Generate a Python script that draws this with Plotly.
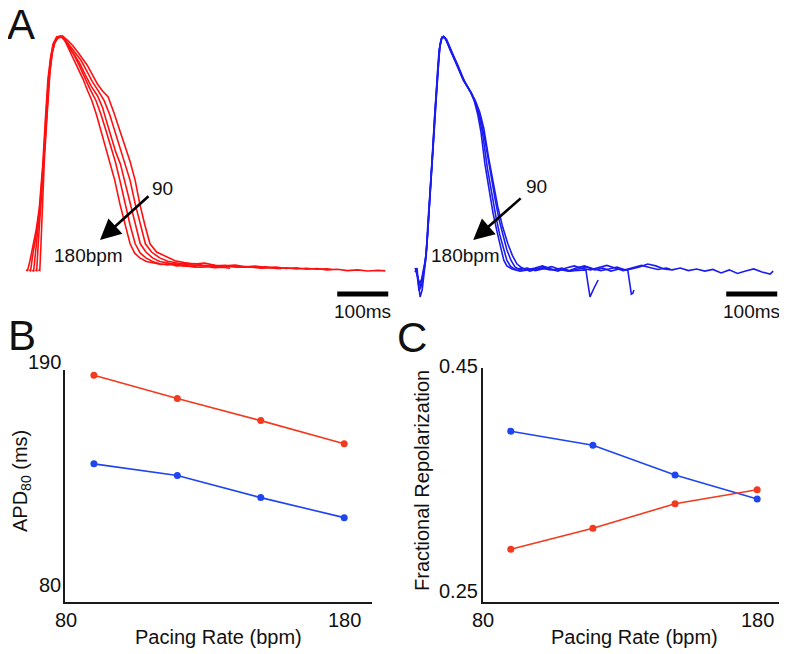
import plotly.graph_objects as go

W, H = 787, 654
FONT = "Liberation Sans, Arial, Helvetica, sans-serif"

# ---------------- Panel A data: optical action potentials (time ms, normalized amplitude %) ----------------
red_180_t = [0, 3, 8, 14, 20, 26, 33, 38, 43, 48, 53, 60, 68, 75, 84, 93, 102, 112, 121, 129, 138, 147, 156, 165, 174, 184, 194, 204, 213, 223, 236, 250, 265, 280, 295, 310, 325, 335]
red_180_v = [0.8, 0.6, 5, 11, 18, 27, 46, 65, 82, 91, 97, 100, 100.5, 99, 95, 91, 87, 82, 77, 73, 67, 60, 54, 47, 39, 29, 20, 12, 8, 6, 4.5, 3.8, 3.2, 3.5, 2.6, 2.8, 2.2, 2.0]
red_150_t = [6, 9, 13, 18, 23, 28, 34, 39, 44, 49, 54, 61, 69, 77, 86, 95, 104, 114, 125, 137, 147, 157, 166, 175, 184, 194, 204, 214, 224, 235, 248, 262, 278, 292, 308, 322, 340, 355, 370, 385, 400]
red_150_v = [0.9, 0.5, 7, 14, 20, 30, 47, 66, 82, 92, 97, 100, 100, 98.5, 95.5, 92, 88, 83, 78, 73, 67, 60, 54, 47, 39, 29, 20, 12, 8, 6, 4.5, 3.5, 3.0, 3.4, 2.6, 2.4, 2.0, 2.2, 1.8, 2.0, 1.6]
red_120_t = [12, 15, 19, 24, 29, 35, 40, 45, 50, 55, 62, 70, 78, 87, 96, 105, 116, 128, 140, 150, 158, 167, 176, 185, 194, 204, 214, 224, 235, 248, 262, 278, 295, 312, 330, 348, 366, 384, 402, 420, 440, 460, 480, 500]
red_120_v = [0.7, 0.4, 9, 19, 31, 48, 67, 83, 92, 97, 99.5, 100, 98, 95, 92, 89, 84, 79, 75, 70, 64, 57, 51, 46, 38, 29, 20, 12, 8.5, 6, 4.5, 3.8, 3.2, 3.6, 2.8, 2.6, 3.0, 2.2, 2.4, 2.0, 2.2, 1.6, 1.8, 1.4]
red_100_t = [18, 21, 24, 29, 35, 41, 46, 51, 56, 63, 72, 80, 89, 98, 108, 118, 130, 142, 153, 164, 174, 184, 194, 204, 214, 224, 234, 246, 262, 278, 294, 312, 330, 350, 370, 390, 410, 430, 450, 470, 490, 510, 530, 550, 570, 590, 600]
red_100_v = [0.8, 0.5, 12, 28, 47, 68, 84, 93, 97.5, 100, 100.5, 98, 95.5, 93, 90, 86, 81, 77, 73, 67, 60, 54, 47, 39, 29, 20, 12, 8.5, 6, 4.6, 3.8, 3.2, 3.6, 2.8, 2.4, 2.9, 2.1, 2.3, 1.9, 2.2, 1.5, 1.8, 1.3, 1.6, 1.2, 1.4, 1.1]
red_90_t = [24, 27, 29, 32, 36, 42, 47, 52, 57, 64, 74, 82, 91, 100, 110, 120, 130, 140, 150, 161, 172, 183, 194, 204, 214, 223, 233, 243, 256, 276, 292, 310, 330, 350, 370, 390, 410, 430, 450, 470, 490, 510, 530, 550, 570, 590, 610, 630, 650, 670, 690, 704]
red_90_v = [0.9, 0.6, 10, 30, 48, 69, 85, 94, 98, 100, 100, 98.5, 96.5, 94, 91, 88, 84, 80, 77, 74.5, 68, 61, 54, 47, 39, 29, 20, 12, 8.5, 6.4, 4.8, 4.0, 3.4, 3.8, 2.9, 2.6, 3.0, 2.2, 2.5, 1.9, 2.1, 1.5, 1.8, 1.2, 1.5, 0.9, 1.2, 0.6, 0.9, 0.4, 0.7, 0.5]

blue_180_t = [0, 4, 6, 10, 14, 18, 22, 25, 29, 35, 39, 45, 49, 53, 59, 69, 80, 94, 108, 116, 123, 129, 137, 145, 153, 161, 167, 174, 180, 190, 206, 225, 245, 265, 284, 304, 323, 335, 339, 343, 351, 359]
blue_180_v = [0, 1.7, -3.4, -10.6, -7.7, 0, 7.2, 20, 32, 52, 68, 88, 96.6, 100, 99.6, 94.5, 89, 82, 77, 73, 67, 60, 46, 35, 25, 17, 11, 5, 2.6, 1.3, 0.4, 0.9, 1.7, 0.9, 1.3, 0.4, 0.9, 0.9, -5, -10.6, -6.8, -3.4]
blue_150_t = [1, 4, 8, 12, 16, 20, 24, 28, 33, 38, 44, 48, 52, 57, 62, 70, 82, 95, 109, 118, 126, 133, 142, 151, 159, 166, 173, 180, 187, 195, 210, 225, 240, 256, 272, 288, 304, 320, 336, 352, 368, 384, 400, 417, 421, 424, 427, 429]
blue_150_v = [1.2, -1, -8, -6, -1, 4, 14, 28, 47, 65, 86, 95, 99.5, 100, 98.5, 94, 88.5, 81.5, 76.5, 72, 66, 58, 44, 32, 23, 16, 10, 5, 2.5, 1.2, 1.7, 0.4, 1.3, 2.1, 0.9, 1.7, 0.4, 1.3, 2.1, 0.9, 1.7, 0.4, 1.3, 0.9, -6, -9.4, -9.0, -7.7]
blue_120_t = [2, 5, 9, 13, 17, 21, 25, 29, 34, 39, 45, 49, 53, 58, 64, 72, 84, 97, 111, 121, 130, 138, 147, 157, 165, 173, 180, 188, 196, 205, 220, 236, 252, 268, 284, 300, 316, 332, 348, 364, 380, 396, 412, 428, 444, 460, 476, 492, 500]
blue_120_v = [0.5, -2, -5, -3, 1, 6, 17, 30, 50, 68, 88, 96, 99.8, 99.8, 97.5, 93.5, 88, 81, 76, 71, 64, 55, 43, 31, 22, 15, 9.5, 5, 2.2, 1.0, 1.7, 0.6, 1.3, 2.3, 1.1, 0.4, 1.7, 2.6, 1.5, 0.6, 1.3, 2.1, 0.9, 1.7, 2.8, 1.9, 1.1, 1.7, 1.3]
blue_90_t = [0, 3, 7, 11, 15, 19, 23, 27, 32, 37, 43, 47, 51, 56, 62, 70, 80, 94, 108, 118, 127, 135, 144, 153, 162, 172, 182, 191, 200, 210, 220, 235, 250, 265, 280, 296, 312, 328, 344, 360, 376, 392, 408, 424, 440, 456, 472, 488, 504, 520, 536, 552, 568, 584, 600, 616, 632, 648, 664, 680, 696, 702]
blue_90_v = [1.7, 0.4, -4, -6.5, -2, 3, 10, 24, 44, 62, 84, 94, 99, 100.3, 99, 95, 90, 82.5, 77, 73, 68, 61, 49, 38, 28, 19, 12, 7, 3.4, 1.7, 0.9, 1.7, 2.6, 1.3, 0.4, 1.7, 2.6, 1.5, 0.9, 1.9, 2.8, 1.7, 0.6, 1.3, 2.1, 3.4, 2.6, 1.3, 0.9, 1.7, 0.6, 1.3, 0.4, 1.1, -0.4, 0.9, -0.6, 0.4, 1.3, 0.0, -0.9, 0.4]

scale_bar_start_ms = 610
scale_bar_len_ms = 100
scale_bar_level = -9.4
scale_bar_label = "100ms"
arrow_top_label = "90"
arrow_bottom_label = "180bpm"

# ---------------- Panels B and C data ----------------
pacing_rate = [90, 120, 150, 180]
apd80_red = [187.5, 176.5, 166, 155]
apd80_blue = [145.5, 140, 129.5, 120]
frac_repol_red = [0.295, 0.313, 0.334, 0.346]
frac_repol_blue = [0.396, 0.384, 0.3585, 0.338]
x_ticks = [80, 180]
x_tick_text = ["80", "180"]
b_y_ticks = [190, 80]
c_y_ticks = [0.45, 0.25]
c_y_tick_text = ["0.45", "0.25"]

RED_A, BLUE_A = "#ff1010", "#1c1cf0"
RED_B, BLUE_B = "#f23a1f", "#1f45ee"
AXC = "#1a1a1a"

# the page shows the figure with an 8px body margin: lay out in page pixels
OFF = 8

def xpx(p):
    return (p - OFF) / W

def ypx(p):
    return 1 - (p - OFF) / H

def xd(p0, p1):
    return [xpx(p0), xpx(p1)]

def yd(top, bottom):
    return [ypx(bottom), ypx(top)]

fig = go.Figure()

red_sets = [(red_180_t, red_180_v), (red_150_t, red_150_v), (red_120_t, red_120_v),
            (red_100_t, red_100_v), (red_90_t, red_90_v)]
blue_sets = [(blue_180_t, blue_180_v), (blue_150_t, blue_150_v),
             (blue_120_t, blue_120_v), (blue_90_t, blue_90_v)]
for t, v in red_sets:
    fig.add_trace(go.Scatter(x=t, y=v, mode="lines", line=dict(color=RED_A, width=1.6),
                             xaxis="x", yaxis="y", showlegend=False, hoverinfo="skip"))
for t, v in blue_sets:
    fig.add_trace(go.Scatter(x=t, y=v, mode="lines", line=dict(color=BLUE_A, width=1.6),
                             xaxis="x2", yaxis="y2", showlegend=False, hoverinfo="skip"))

fig.add_trace(go.Scatter(x=pacing_rate, y=apd80_red, mode="lines+markers",
                         line=dict(color=RED_B, width=1.6), marker=dict(size=7, color=RED_B),
                         xaxis="x3", yaxis="y3", showlegend=False))
fig.add_trace(go.Scatter(x=pacing_rate, y=apd80_blue, mode="lines+markers",
                         line=dict(color=BLUE_B, width=1.6), marker=dict(size=7, color=BLUE_B),
                         xaxis="x3", yaxis="y3", showlegend=False))
fig.add_trace(go.Scatter(x=pacing_rate, y=frac_repol_blue, mode="lines+markers",
                         line=dict(color=BLUE_B, width=1.6), marker=dict(size=7, color=BLUE_B),
                         xaxis="x4", yaxis="y4", showlegend=False))
fig.add_trace(go.Scatter(x=pacing_rate, y=frac_repol_red, mode="lines+markers",
                         line=dict(color=RED_B, width=1.6), marker=dict(size=7, color=RED_B),
                         xaxis="x4", yaxis="y4", showlegend=False))

MS_PER_PX = 1.96
V_PER_PX = 1 / 2.35
hidden = dict(visible=False, fixedrange=True, automargin=False)
frame_ax = dict(showline=True, linecolor=AXC, linewidth=2, showgrid=False, zeroline=False,
                showticklabels=False, ticks="", automargin=False, fixedrange=True)

fig.update_layout(
    width=W, height=H, autosize=False, margin=dict(l=0, r=0, t=0, b=0, pad=0),
    paper_bgcolor="white", plot_bgcolor="white",
    font=dict(family=FONT, color="#111", size=20),
    xaxis=dict(domain=xd(20, 395), range=[(20 - 26) * MS_PER_PX, (395 - 26) * MS_PER_PX], **hidden),
    yaxis=dict(domain=yd(25, 305), range=[(272 - 305) * V_PER_PX, (272 - 25) * V_PER_PX], **hidden),
    xaxis2=dict(domain=xd(405, 787), range=[(405 - 415) * MS_PER_PX, (787 - 415) * MS_PER_PX], **hidden),
    yaxis2=dict(domain=yd(25, 305), range=[(272 - 305) * V_PER_PX, (272 - 25) * V_PER_PX], **hidden),
    xaxis3=dict(domain=xd(65, 372), range=[79.6, 190], anchor="y3", **frame_ax),
    yaxis3=dict(domain=yd(370, 602), range=[80, 190], anchor="x3", **frame_ax),
    xaxis4=dict(domain=xd(483, 784), range=[79.85, 189.8], anchor="y4", **frame_ax),
    yaxis4=dict(domain=yd(368, 602), range=[0.25, 0.45], anchor="x4", **frame_ax),
)

shapes = []
for xa, ya in (("x", "y"), ("x2", "y2")):
    shapes.append(dict(type="line", xref=xa, yref=ya,
                       x0=scale_bar_start_ms, x1=scale_bar_start_ms + scale_bar_len_ms,
                       y0=scale_bar_level, y1=scale_bar_level,
                       line=dict(color="black", width=5)))
fig.update_layout(shapes=shapes)

def txt(**kw):
    base = dict(showarrow=False, xanchor="center", yanchor="middle")
    base.update(kw)
    return base

ann = []
for xa, ya in (("x", "y"), ("x2", "y2")):
    ann.append(txt(x=scale_bar_start_ms + scale_bar_len_ms / 2, y=scale_bar_level, xref=xa, yref=ya,
                   text=scale_bar_label, yanchor="top", yshift=-5, font=dict(size=19)))
arrows = [("x", "y", 145, 13.6, 243, 32.8, 267, 35.7, 123, 7.2),
          ("x2", "y2", 114, 13.6, 210, 31.9, 239, 36.2, 98, 7.2)]
for xa, ya, tx, ty, sx, sy, lx, ly, bx, by in arrows:
    ann.append(dict(x=tx, y=ty, ax=sx, ay=sy, xref=xa, yref=ya, axref=xa, ayref=ya,
                    text="", showarrow=True, arrowhead=2, arrowsize=1.6, arrowwidth=2.6,
                    arrowcolor="black"))
    ann.append(txt(x=lx, y=ly, xref=xa, yref=ya, text=arrow_top_label, font=dict(size=19)))
    ann.append(txt(x=bx, y=by, xref=xa, yref=ya, text=arrow_bottom_label, font=dict(size=19)))

for letter, px, py in (("A", 21, 25), ("B", 22, 336), ("C", 412, 337)):
    ann.append(txt(x=xpx(px), y=ypx(py), xref="paper", yref="paper", text=letter,
                   font=dict(size=42), borderpad=0))

# tick labels (placed as in the original figure)
for xa, ya in (("x3", "y3 domain"), ("x4", "y4 domain")):
    for val, t_ in zip(x_ticks, x_tick_text):
        ann.append(txt(x=val, y=0, xref=xa, yref=ya, text=t_, yanchor="top", yshift=-5,
                       font=dict(size=20)))
for val, shift in zip(b_y_ticks, (8, 17)):
    ann.append(txt(x=0, y=val, xref="x3 domain", yref="y3", text=str(val),
                   xanchor="right", xshift=-2, yshift=shift, font=dict(size=20)))
for val, t_, shift in zip(c_y_ticks, c_y_tick_text, (2, 11)):
    ann.append(txt(x=0, y=val, xref="x4 domain", yref="y4", text=t_,
                   xanchor="right", xshift=-3, yshift=shift, font=dict(size=20)))

ann.append(txt(x=xpx(218), y=ypx(637), xref="paper", yref="paper", text="Pacing Rate (bpm)",
               font=dict(size=20)))
ann.append(txt(x=xpx(634), y=ypx(637), xref="paper", yref="paper", text="Pacing Rate (bpm)",
               font=dict(size=20)))
ann.append(txt(x=xpx(21), y=ypx(481), xref="paper", yref="paper",
               text="APD<sub>80</sub> (ms)", textangle=-90, font=dict(size=20), borderpad=0))
ann.append(txt(x=xpx(422), y=ypx(481), xref="paper", yref="paper",
               text="Fractional Repolarization", textangle=-90, font=dict(size=20)))

fig.update_layout(annotations=ann)
fig.write_html("out.html")
